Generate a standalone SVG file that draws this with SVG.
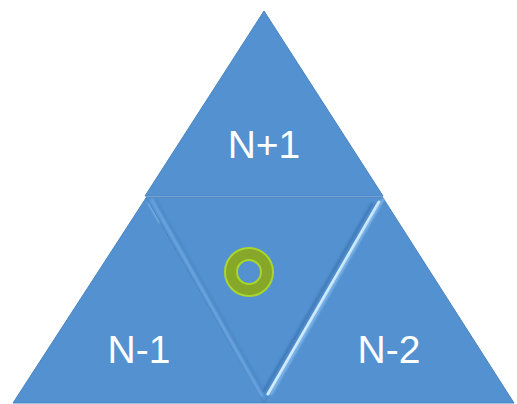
<svg xmlns="http://www.w3.org/2000/svg" width="517" height="404" viewBox="0 0 517 404">
<defs>
<style>
.tri{fill:#5391d0;stroke:#4a84c2;stroke-width:1;stroke-linejoin:round;}
.lbl{font-family:"Liberation Sans",Arial,sans-serif;font-size:39px;fill:#ffffff;text-anchor:middle;}
.hl{fill:none;stroke-linecap:round;}
</style>
<filter id="soft" x="-20%" y="-20%" width="140%" height="140%"><feGaussianBlur stdDeviation="1.3"/></filter>
<filter id="soft2" x="-20%" y="-20%" width="140%" height="140%"><feGaussianBlur stdDeviation="0.7"/></filter>
</defs>
<rect width="517" height="404" fill="#ffffff"/>

<g id="node-bottom-left">
<polygon class="tri" points="146,198 264,403 13,403"/>
<line class="hl" x1="149" y1="203" x2="160" y2="222" stroke="#8cc0ee" stroke-width="2" filter="url(#soft)"/>
<text class="lbl" x="139" y="363">N-1</text>
</g>

<g id="node-bottom-right">
<polygon class="tri" points="383,198 514,403 264,403"/>
<text class="lbl" x="389" y="363">N-2</text>
</g>

<g id="node-center">
<polygon class="tri" points="146,197 383,197 264,403"/>
<g id="ring">
<circle cx="249" cy="272" r="18" fill="none" stroke="#86a72a" stroke-width="12"/>
<circle cx="249" cy="272" r="24" fill="none" stroke="#a9d62a" stroke-width="2"/>
<circle cx="249" cy="272" r="12" fill="none" stroke="#a9d62a" stroke-width="2"/>
</g>
</g>

<g id="node-top">
<polygon class="tri" points="264,11 383,196 145,196"/>
<text class="lbl" x="264" y="158">N+1</text>
</g>

<g id="bevels">
<line class="hl" x1="152" y1="190" x2="376" y2="190" stroke="#6aa6e2" stroke-width="4" filter="url(#soft)"/>
<line class="hl" x1="147" y1="196" x2="381" y2="196" stroke="#3a6ea8" stroke-width="2" filter="url(#soft2)"/>
<line class="hl" x1="152" y1="200" x2="262" y2="396" stroke="#6fa9e3" stroke-width="2.5" filter="url(#soft)"/>
<line class="hl" x1="156" y1="200" x2="264" y2="392" stroke="#4a83c1" stroke-width="1.5" filter="url(#soft)"/>
<line class="hl" x1="372" y1="204" x2="264" y2="391" stroke="#3f77b5" stroke-width="2.5" filter="url(#soft)"/>
<line class="hl" x1="379" y1="202" x2="268" y2="394" stroke="#d6eeff" stroke-width="3" filter="url(#soft2)"/>
<line class="hl" x1="383" y1="199" x2="271" y2="394" stroke="#8cc3f2" stroke-width="2" filter="url(#soft)"/>
</g>
</svg>
